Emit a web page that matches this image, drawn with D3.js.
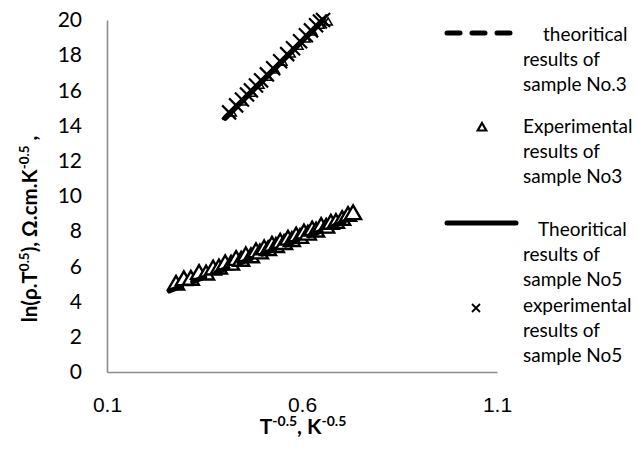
<!DOCTYPE html>
<html><head><meta charset="utf-8">
<script src="https://cdn.jsdelivr.net/npm/d3@7"></script>
<style>body{margin:0;background:#fff}</style>
</head><body><svg id="c" width="638" height="455"></svg>
<script>
// ---- data ----
const xTicks = [0.1, 0.6, 1.1];
const yTicks = [0, 2, 4, 6, 8, 10, 12, 14, 16, 18, 20];

// sample No3 theoretical (dashed)
const theo3X = [0.26, 0.40, 0.55, 0.73];
const theo3Y = [4.60, 5.83, 7.14, 8.72];
// sample No3 experimental (triangles)
const exp3X = [0.277,0.297,0.315,0.336,0.354,0.372,0.387,0.403,0.418,0.431,0.444,0.456,0.469,0.482,0.492,0.503,0.513,0.523,0.533,0.544,0.554,0.564,0.574,0.585,0.595,0.605,0.615,0.626,0.636,0.649,0.662,0.674,0.687,0.703,0.718,0.731];
const exp3Y = [4.94,5.20,5.22,5.55,5.52,5.80,5.86,6.10,6.08,6.35,6.30,6.55,6.50,6.78,6.72,6.95,6.90,7.15,7.08,7.32,7.25,7.50,7.42,7.68,7.60,7.85,7.78,8.02,7.96,8.22,8.18,8.40,8.45,8.62,8.85,8.95];
// small triangles along the upper curve
const exp3bX = [0.421,0.449,0.472,0.492,0.513,0.531,0.551,0.572,0.592,0.610,0.628,0.646,0.667];
const exp3bY = [14.68,15.30,15.81,16.26,16.72,17.12,17.57,18.03,18.48,18.88,19.28,19.67,19.85];
// sample No5 theoretical (solid)
const theo5X = [0.403, 0.50, 0.60, 0.654];
const theo5Y = [14.43, 16.58, 18.80, 20.00];
// sample No5 experimental (x)
const exp5X = [0.413,0.431,0.446,0.459,0.469,0.482,0.495,0.510,0.526,0.544,0.562,0.577,0.595,0.610,0.623,0.636,0.646,0.654];
const exp5Y = [14.75,15.15,15.48,15.77,16.00,16.28,16.57,16.91,17.26,17.66,18.06,18.39,18.79,19.13,19.41,19.70,19.92,20.00];

const legendLabels = [
  ["theoritical", "results of", "sample No.3"],
  ["Experimental", "results of", "sample No3"],
  ["Theoritical", "results of", "sample No5"],
  ["experimental", "results of", "sample No5"]
];

// ---- drawing ----
const svg = d3.select("#c");
const x = d3.scaleLinear().domain([0.1, 1.1]).range([107, 497]);
const y = d3.scaleLinear().domain([0, 20]).range([372, 20]);
const axisCol = "#8c8c8c";
const tickFont = "Lato, 'Open Sans', sans-serif";

const gy = svg.append("g").attr("transform", "translate(107,0)")
  .call(d3.axisLeft(y).tickValues(yTicks).tickSize(0).tickSizeOuter(0).tickPadding(25).tickFormat(d3.format("d")));
gy.select(".domain").attr("stroke", axisCol).attr("stroke-width", 1.6);
gy.selectAll("text").attr("font-family", tickFont).attr("font-size", 21).attr("fill", "#000");

const gx = svg.append("g").attr("transform", "translate(0,372)")
  .call(d3.axisBottom(x).tickValues(xTicks).tickSize(0).tickSizeOuter(0).tickPadding(25).tickFormat(d3.format(".1f")));
gx.select(".domain").attr("stroke", axisCol).attr("stroke-width", 1.6);
gx.selectAll("text").attr("font-family", "'Liberation Sans', Arial, sans-serif").attr("font-size", 21).attr("fill", "#000");

const line = d3.line().x(d => x(d[0])).y(d => y(d[1]));
const tri = d3.symbol().type(d3.symbolTriangle);
const dashPattern = "13,12";

// No3 experimental triangles (big)
svg.append("g").selectAll("path").data(d3.zip(exp3X, exp3Y)).join("path")
  .attr("transform", d => `translate(${x(d[0])},${y(d[1])})`)
  .attr("d", tri.size(110)())
  .attr("fill", "#fff").attr("stroke", "#000").attr("stroke-width", 2.4);

// No3 theoretical dashed
svg.append("path").datum(d3.zip(theo3X, theo3Y)).attr("d", line)
  .attr("fill", "none").attr("stroke", "#000").attr("stroke-width", 5)
  .attr("stroke-linecap", "round").attr("stroke-dasharray", dashPattern);

// small triangles on the upper curve
svg.append("g").selectAll("path").data(d3.zip(exp3bX, exp3bY)).join("path")
  .attr("transform", d => `translate(${x(d[0])},${y(d[1])})`)
  .attr("d", tri.size(30)())
  .attr("fill", "#fff").attr("stroke", "#000").attr("stroke-width", 1.5);

// No5 theoretical solid
svg.append("path").datum(d3.zip(theo5X, theo5Y)).attr("d", line)
  .attr("fill", "none").attr("stroke", "#000").attr("stroke-width", 5.5)
  .attr("stroke-linecap", "round");

// No5 experimental crosses
const cr = 7;
svg.append("g").selectAll("path").data(d3.zip(exp5X, exp5Y)).join("path")
  .attr("transform", d => `translate(${x(d[0])},${y(d[1])})`)
  .attr("d", `M${-cr},${-cr}L${cr},${cr}M${-cr},${cr}L${cr},${-cr}`)
  .attr("stroke", "#000").attr("stroke-width", 2.2).attr("fill", "none");

// ---- legend ----
const lg = svg.append("g");
const legFont = "Lato, 'Open Sans', sans-serif";
const rowBase = [41, 133, 236, 312];
const rowX = [543, 523, 538, 523];
legendLabels.forEach((lines, i) => {
  lines.forEach((t, j) => {
    lg.append("text").attr("x", j === 0 ? rowX[i] : 523).attr("y", rowBase[i] + j * 25)
      .attr("font-family", legFont).attr("font-size", 19).attr("fill", "#000").text(t);
  });
});
// dashed sample
lg.append("line").attr("x1", 447).attr("x2", 510).attr("y1", 33).attr("y2", 33)
  .attr("stroke", "#000").attr("stroke-width", 5).attr("stroke-linecap", "round").attr("stroke-dasharray", dashPattern);
// triangle sample
lg.append("path").attr("transform", "translate(482,128)").attr("d", tri.size(32)())
  .attr("fill", "#fff").attr("stroke", "#000").attr("stroke-width", 2.2);
// solid sample
lg.append("line").attr("x1", 447).attr("x2", 516).attr("y1", 223).attr("y2", 223)
  .attr("stroke", "#000").attr("stroke-width", 5).attr("stroke-linecap", "round");
// cross sample
const lr = 4;
lg.append("path").attr("transform", "translate(476,308)")
  .attr("d", `M${-lr},${-lr}L${lr},${lr}M${-lr},${lr}L${lr},${-lr}`)
  .attr("stroke", "#000").attr("stroke-width", 1.8);

// ---- axis titles ----
const yt = svg.append("text").attr("transform", "translate(37,229) rotate(-90)")
  .attr("text-anchor", "middle").attr("font-family", legFont).attr("font-weight", "bold")
  .attr("font-size", 20.5).attr("fill", "#000");
yt.append("tspan").text("ln(ρ.T");
yt.append("tspan").attr("font-size", 13.5).attr("dy", -8).text("0.5");
yt.append("tspan").attr("dy", 8).text("), Ω.cm.K");
yt.append("tspan").attr("font-size", 13.5).attr("dy", -8).text("-0.5");
yt.append("tspan").attr("dy", 8).text(" ,");

const xt = svg.append("text").attr("x", 303).attr("y", 434)
  .attr("text-anchor", "middle").attr("font-family", legFont).attr("font-weight", "bold")
  .attr("font-size", 21).attr("fill", "#000");
xt.append("tspan").text("T");
xt.append("tspan").attr("font-size", 14).attr("dy", -8).text("-0.5");
xt.append("tspan").attr("dy", 8).text(", K");
xt.append("tspan").attr("font-size", 14).attr("dy", -8).text("-0.5");
</script></body></html>
